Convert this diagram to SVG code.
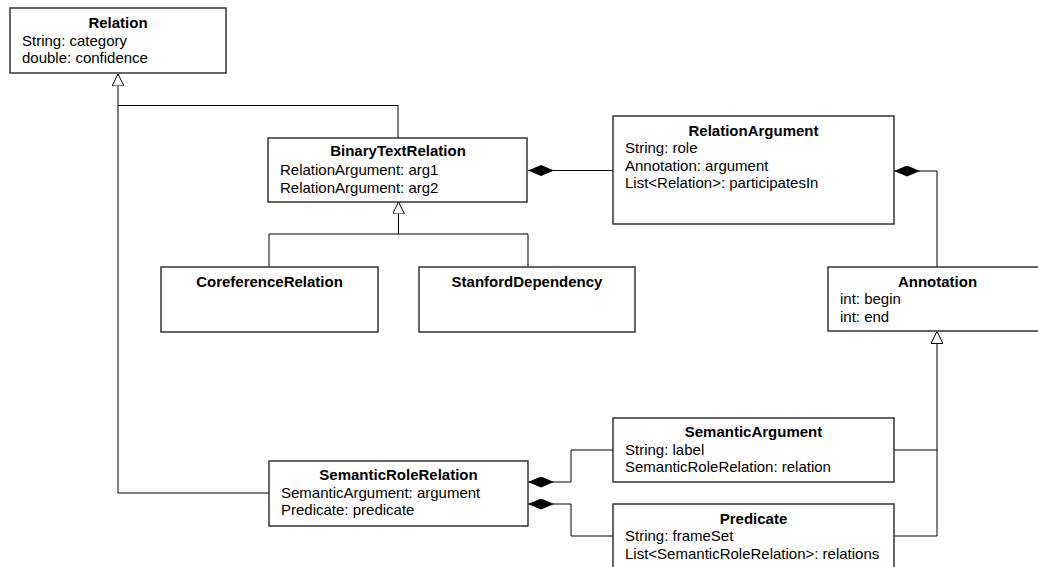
<svg xmlns="http://www.w3.org/2000/svg" width="1038" height="567" viewBox="0 0 1038 567">
  <style>
    .box { fill: #fff; stroke: #333; stroke-width: 1.5; }
    .t { font-family: "Liberation Sans", Arial, sans-serif; font-size: 15px; fill: #000; }
    .title { font-weight: bold; text-anchor: middle; }
    .edge { fill: none; stroke: #000; stroke-width: 1; }
  </style>
  <defs>
    <!-- generalization: hollow triangle -->
    <marker id="inherit" viewBox="0 0 12 12" refX="12" refY="6" markerWidth="12" markerHeight="12" markerUnits="userSpaceOnUse" orient="auto">
      <path d="M0,0 L12,6 L0,12 Z" fill="#fff" stroke="#000" stroke-width="1"/>
    </marker>
    <!-- composition: filled diamond, tip at the owning class -->
    <marker id="compose" viewBox="0 0 26 11" refX="26" refY="5.5" markerWidth="26" markerHeight="11" markerUnits="userSpaceOnUse" orient="auto">
      <path d="M0,5.5 L13,0 L26,5.5 L13,11 Z" fill="#000"/>
    </marker>
  </defs>

  <!-- connectors -->
  <g id="connectors">
    <!-- SemanticRoleRelation -> Relation -->
    <path class="edge" d="M269,493 H118 V74" marker-end="url(#inherit)"/>
    <!-- BinaryTextRelation -> Relation -->
    <path class="edge" d="M398,138 V105.5 H118"/>
    <!-- CoreferenceRelation / StanfordDependency -> BinaryTextRelation -->
    <path class="edge" d="M269,267 V234 H528 V267"/>
    <path class="edge" d="M398.5,234 V202" marker-end="url(#inherit)"/>
    <!-- BinaryTextRelation <>- RelationArgument -->
    <path class="edge" d="M613,170.5 H528" marker-end="url(#compose)"/>
    <!-- RelationArgument <>- Annotation -->
    <path class="edge" d="M937,267 V171 H894" marker-end="url(#compose)"/>
    <!-- SemanticArgument / Predicate -> Annotation -->
    <path class="edge" d="M894,450 H937 M894,536 H937 V331.5" marker-end="url(#inherit)"/>
    <!-- SemanticRoleRelation <>- SemanticArgument -->
    <path class="edge" d="M613,450 H571 V482 H528" marker-end="url(#compose)"/>
    <!-- SemanticRoleRelation <>- Predicate -->
    <path class="edge" d="M613,536 H571 V504 H528" marker-end="url(#compose)"/>
  </g>

  <g id="Relation">
    <rect class="box" x="10" y="8" width="216" height="65"/>
    <text class="t title" x="118" y="27.5">Relation</text>
    <text class="t" x="22" y="45.5">String: category</text>
    <text class="t" x="22" y="63">double: confidence</text>
  </g>

  <g id="BinaryTextRelation">
    <rect class="box" x="268" y="138" width="259" height="64"/>
    <text class="t title" x="398" y="156">BinaryTextRelation</text>
    <text class="t" x="280" y="175">RelationArgument: arg1</text>
    <text class="t" x="280" y="192.5">RelationArgument: arg2</text>
  </g>

  <g id="RelationArgument">
    <rect class="box" x="613" y="116" width="281" height="108"/>
    <text class="t title" x="753.5" y="136">RelationArgument</text>
    <text class="t" x="625" y="153">String: role</text>
    <text class="t" x="625" y="170.5">Annotation: argument</text>
    <text class="t" x="625" y="188">List&lt;Relation&gt;: participatesIn</text>
  </g>

  <g id="CoreferenceRelation">
    <rect class="box" x="161" y="267" width="217" height="65"/>
    <text class="t title" x="269.5" y="286.5">CoreferenceRelation</text>
  </g>

  <g id="StanfordDependency">
    <rect class="box" x="419" y="267" width="216" height="65"/>
    <text class="t title" x="527" y="286.5">StanfordDependency</text>
  </g>

  <g id="Annotation">
    <rect class="box" x="828" y="267" width="219" height="64"/>
    <text class="t title" x="937.5" y="286.5">Annotation</text>
    <text class="t" x="840" y="304">int: begin</text>
    <text class="t" x="840" y="321.5">int: end</text>
  </g>

  <g id="SemanticArgument">
    <rect class="box" x="613" y="418" width="281" height="64"/>
    <text class="t title" x="753.5" y="437">SemanticArgument</text>
    <text class="t" x="625" y="455">String: label</text>
    <text class="t" x="625" y="472">SemanticRoleRelation: relation</text>
  </g>

  <g id="SemanticRoleRelation">
    <rect class="box" x="269" y="461" width="259" height="65"/>
    <text class="t title" x="398.5" y="480">SemanticRoleRelation</text>
    <text class="t" x="281" y="497.5">SemanticArgument: argument</text>
    <text class="t" x="281" y="515">Predicate: predicate</text>
  </g>

  <g id="Predicate">
    <rect class="box" x="613" y="504" width="281" height="75"/>
    <text class="t title" x="753.5" y="524">Predicate</text>
    <text class="t" x="625" y="541">String: frameSet</text>
    <text class="t" x="625" y="558.5">List&lt;SemanticRoleRelation&gt;: relations</text>
  </g>
</svg>
